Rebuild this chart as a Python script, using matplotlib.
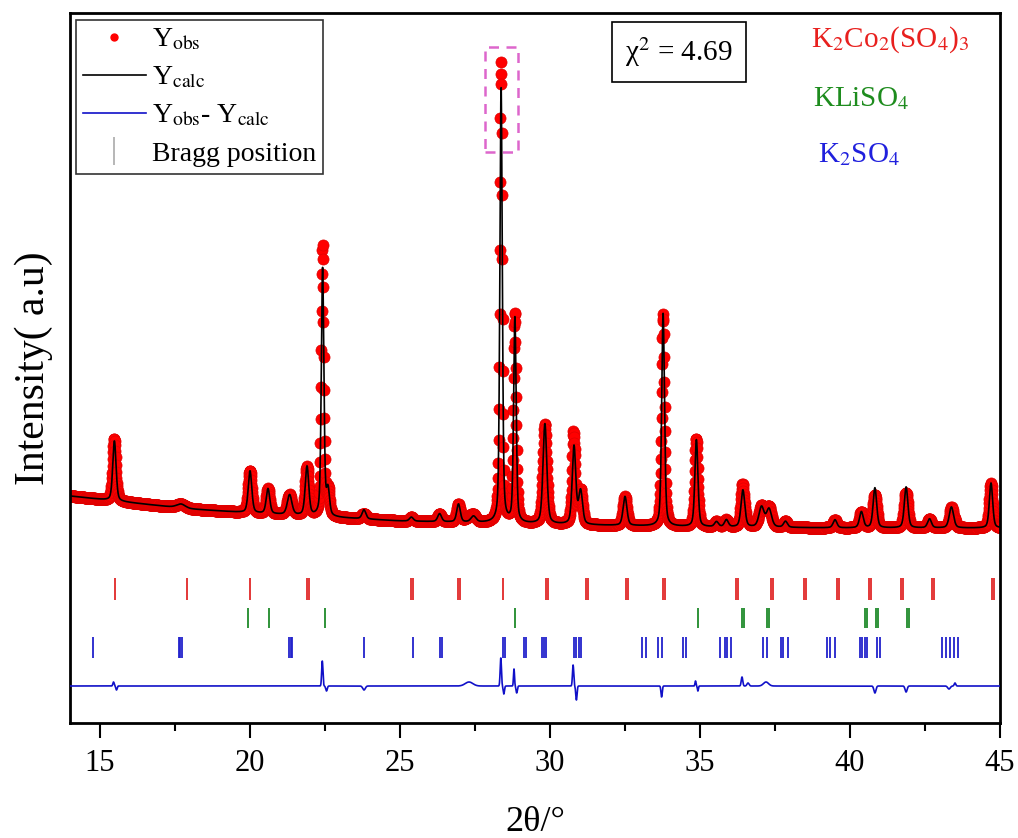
import numpy as np
import matplotlib
matplotlib.use("Agg")
import matplotlib.pyplot as plt
from matplotlib.lines import Line2D
from matplotlib.patches import Rectangle

plt.rcParams['font.family'] = ['Liberation Serif', 'DejaVu Serif']
plt.rcParams['mathtext.fontset'] = 'stix'

# background level of the pattern (2theta, intensity)
bg_2theta = [14.0, 15.5, 18.0, 20.0, 22.5, 25.0, 28.0, 31.0, 35.0, 40.0, 45.0]
bg_level = [2510, 2460, 2380, 2340, 2300, 2260, 2240, 2220, 2200, 2190, 2190]

# fitted reflections: position, height, fwhm
peak_pos = [15.48, 17.70, 20.00, 20.60, 21.32, 21.90, 22.42, 22.60, 23.80, 25.38,
            26.32, 26.95, 27.45, 28.37, 28.83, 29.83, 30.80, 31.02, 32.50, 33.77,
            34.88, 35.55, 35.88, 36.43, 37.05, 37.30, 37.85, 39.50, 40.38, 40.83,
            41.87, 42.65, 43.38, 44.70]
peak_height = [600, 40, 420, 250, 200, 490, 2480, 250, 90, 40,
               80, 180, 60, 4350, 2050, 1000, 780, 330, 290, 2130,
               870, 50, 70, 370, 200, 180, 60, 80, 160, 400,
               410, 90, 210, 450]
peak_fwhm = [0.13, 0.35, 0.14, 0.14, 0.18, 0.14, 0.10, 0.12, 0.15, 0.15,
             0.15, 0.14, 0.20, 0.095, 0.10, 0.15, 0.14, 0.15, 0.15, 0.11,
             0.12, 0.15, 0.15, 0.15, 0.20, 0.20, 0.15, 0.15, 0.15, 0.14,
             0.14, 0.15, 0.17, 0.13]

# misfit features (Yobs - Ycalc): position, amplitude, width
diff_pos = [15.45, 15.55, 22.41, 22.55, 23.80, 27.30, 28.36, 28.46, 28.80, 28.89,
            30.77, 30.88, 33.72, 34.85, 34.93, 36.40, 36.60, 37.20, 40.83, 41.87,
            43.30, 43.50]
diff_amp = [40, -40, 250, -50, -40, 40, 280, -80, 170, -70,
            210, -140, -110, 50, -50, 90, 30, 40, -70, -60,
            -30, 30]
diff_wid = [0.05, 0.05, 0.05, 0.06, 0.10, 0.30, 0.05, 0.05, 0.04, 0.05,
            0.05, 0.05, 0.05, 0.04, 0.04, 0.06, 0.08, 0.20, 0.08, 0.08,
            0.10, 0.06]

# Bragg reflections of each phase
bragg_k2co2 = [15.50, 17.90, 20.00, 21.90, 21.96, 25.37, 25.43, 26.94, 27.00, 28.43,
               29.86, 29.94, 31.20, 31.26, 32.54, 32.60, 33.77, 33.83, 36.20, 36.26,
               37.37, 37.43, 38.47, 38.53, 39.57, 39.63, 40.64, 40.70, 41.70, 41.76,
               42.74, 42.80, 44.74, 44.80]
bragg_kliso4 = [19.93, 20.63, 22.50, 28.83, 34.93, 36.40, 36.46, 37.24, 37.30,
                40.50, 40.56, 40.87, 40.93, 41.90, 41.96]
bragg_k2so4 = [14.77, 17.63, 17.67, 17.72, 21.30, 21.35, 21.40, 23.80, 25.43, 26.34,
               26.40, 28.44, 28.50, 29.14, 29.20, 29.73, 29.80, 29.87, 30.80, 30.88,
               30.97, 31.03, 33.07, 33.20, 33.60, 33.73, 34.43, 34.53, 35.67, 35.83,
               35.90, 36.03, 37.10, 37.23, 37.70, 37.77, 37.93, 39.23, 39.33, 39.50,
               40.33, 40.40, 40.50, 40.57, 40.90, 41.00, 43.07, 43.20, 43.33, 43.47,
               43.60]


def pseudo_voigt(x, pos, h, w, eta=0.4):
    g = np.exp(-4 * np.log(2) * ((x - pos) / w) ** 2)
    l = 1.0 / (1 + 4 * ((x - pos) / w) ** 2)
    return h * (eta * l + (1 - eta) * g)


def profile(x):
    y = np.interp(x, bg_2theta, bg_level)
    for p, h, w in zip(peak_pos, peak_height, peak_fwhm):
        y = y + pseudo_voigt(x, p, h, w)
    return y


def misfit(x):
    d = np.zeros_like(x)
    for p, a, w in zip(diff_pos, diff_amp, diff_wid):
        d = d + a * np.exp(-4 * np.log(2) * ((x - p) / w) ** 2)
    return d


x_obs = np.arange(14.0, 45.0 + 1e-9, 0.01)
x_calc = np.arange(14.0, 45.0 + 1e-9, 0.004)
y_calc = profile(x_calc)
y_obs = profile(x_obs) + misfit(x_obs)
y_diff = 610 + misfit(x_calc)

fig = plt.figure(figsize=(10.18, 8.38), dpi=100)
ax = fig.add_axes([70 / 1018, 1 - 723 / 838, 930 / 1018, 710 / 838])

ax.plot(x_obs, y_obs, 'o', color='#ff0000', ms=8, mec='#e00000', mew=0.5, zorder=2)
ax.plot(x_calc, y_calc, color='black', lw=1.2, zorder=3)
ax.plot(x_calc, y_diff, color='#1010c8', lw=1.2, zorder=3)

ax.vlines(bragg_k2co2, 1470, 1690, color='#e02828', lw=1.3)
ax.vlines(bragg_kliso4, 1190, 1390, color='#1f8a2a', lw=1.3)
ax.vlines(bragg_k2so4, 890, 1100, color='#2222cc', lw=1.3)

# dashed frame around the strongest reflection
i_top = np.argmax(y_obs)
ax.add_patch(Rectangle((x_obs[i_top] - 0.52, y_obs[i_top] - 900), 1.07, 1050,
                       fill=False, ec='#dd66cc', lw=1.8, ls=(0, (4, 3)), zorder=4))

ax.set_xlim(14, 45)
ax.set_ylim(240, 7340)
ax.set_xticks([15, 20, 25, 30, 35, 40, 45])
ax.set_xticks([17.5, 22.5, 27.5, 32.5, 37.5, 42.5], minor=True)
ax.set_yticks([])
ax.tick_params(axis='x', which='major', direction='out', length=11, width=1.5,
               labelsize=22, pad=8)
ax.tick_params(axis='x', which='minor', direction='out', length=6, width=1.5)
for s in ax.spines.values():
    s.set_linewidth(2)

ax.set_xlabel('2θ/°', fontsize=26, labelpad=20)
ax.set_ylabel('Intensity( a.u)', fontsize=30, labelpad=12)

handles = [
    Line2D([], [], ls='none', marker='o', color='#ff0000', ms=5),
    Line2D([], [], color='black', lw=1.2),
    Line2D([], [], color='#1010c8', lw=1.2),
    Line2D([], [], ls='none', marker='|', color='#aaaaaa', ms=20, mew=1.2),
]
labels = [r'Y$_{\rm obs}$', r'Y$_{\rm calc}$', r'Y$_{\rm obs}$- Y$_{\rm calc}$', 'Bragg position']
leg = ax.legend(handles, labels, loc='upper left', bbox_to_anchor=(0.006, 0.99),
                borderaxespad=0, fontsize=20, frameon=True, fancybox=False,
                edgecolor='#333333', framealpha=1, handlelength=2.3,
                handletextpad=0.2, labelspacing=0.45, borderpad=0.25)
leg.get_frame().set_linewidth(1.2)

ax.text(0.655, 0.945, 'χ$^2$ = 4.69', transform=ax.transAxes, fontsize=21,
        ha='center', va='center',
        bbox=dict(boxstyle='square,pad=0.45', fc='white', ec='black', lw=1.2))

ax.text(0.797, 0.962, r'K$_2$Co$_2$(SO$_4$)$_3$', transform=ax.transAxes,
        fontsize=21, color='#e8201e', ha='left', va='center')
ax.text(0.799, 0.880, r'KLiSO$_4$', transform=ax.transAxes,
        fontsize=21, color='#1e8c1e', ha='left', va='center')
ax.text(0.804, 0.800, r'K$_2$SO$_4$', transform=ax.transAxes,
        fontsize=21, color='#2020dd', ha='left', va='center')

fig.savefig('out.png', dpi=100)
